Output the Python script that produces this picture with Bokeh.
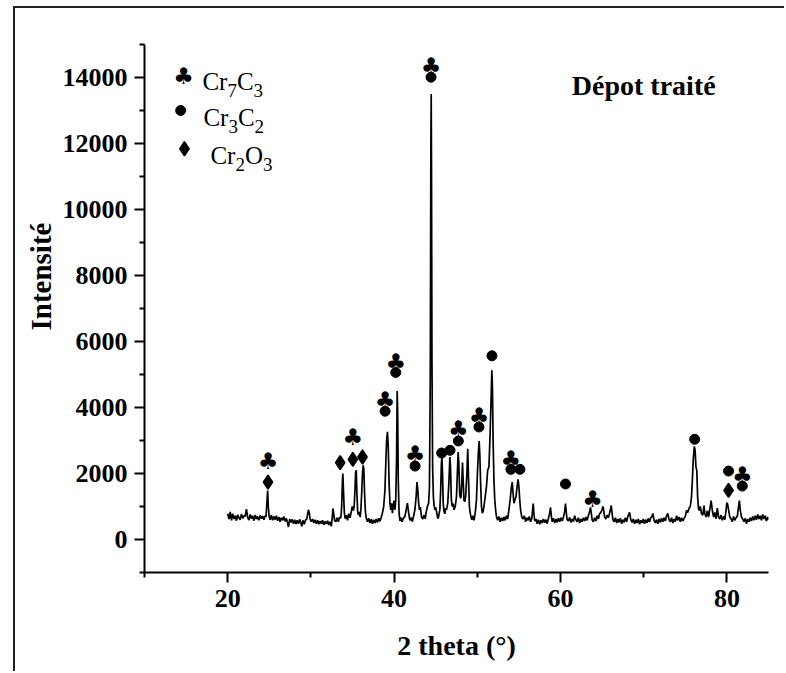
from bokeh.plotting import figure
from bokeh.models import Range1d, FixedTicker, Label, Title
from bokeh.core.properties import value
from bokeh.embed import file_html
from bokeh.resources import INLINE

# ---------------- data ----------------
two_theta = [
    20.0, 20.15, 20.3, 20.45, 20.6, 20.75, 20.9, 21.05, 21.2, 21.35, 21.5, 21.65, 21.8, 21.95, 22.1, 22.25,
    22.4, 22.55, 22.7, 22.85, 23.0, 23.15, 23.3, 23.45, 23.6, 23.75, 23.9, 24.05, 24.2, 24.35, 24.5,
    24.6, 24.7, 24.8, 24.88, 24.98,
    25.1, 25.25, 25.4, 25.55, 25.7, 25.85, 26.0, 26.15, 26.3, 26.45, 26.6, 26.75, 26.9, 27.05, 27.2, 27.3,
    27.45, 27.6, 27.75, 27.9, 28.05, 28.2, 28.35, 28.5, 28.65, 28.8, 28.9, 29.05, 29.2, 29.35, 29.5,
    29.6, 29.7, 29.8, 29.9,
    30.05, 30.2, 30.35, 30.5, 30.65, 30.8, 30.95, 31.1, 31.25, 31.4, 31.55, 31.7, 31.85, 32.0, 32.15, 32.3,
    32.45, 32.55, 32.65, 32.75, 32.85, 33.0, 33.15, 33.3, 33.45,
    33.6, 33.7, 33.78, 33.84, 33.92, 34.02, 34.12, 34.25, 34.4, 34.55, 34.7, 34.85, 34.97, 35.1, 35.2, 35.3,
    35.38, 35.45, 35.53, 35.62, 35.72, 35.82, 35.92, 36.02, 36.12, 36.2, 36.28, 36.36, 36.45, 36.55, 36.65,
    36.8, 36.95, 37.1, 37.25, 37.4, 37.55, 37.7, 37.85, 38.0, 38.15, 38.3, 38.45, 38.6,
    38.75, 38.9, 39.0, 39.1, 39.2, 39.3, 39.4, 39.5, 39.6, 39.7, 39.8, 39.9, 40.0, 40.1, 40.2, 40.3,
    40.37, 40.43, 40.5, 40.6, 40.7, 40.8, 40.95, 41.1,
    41.3, 41.45, 41.6, 41.75, 41.9, 42.05, 42.2, 42.35, 42.5, 42.65, 42.75, 42.85, 42.95, 43.05, 43.15, 43.3,
    43.45, 43.6, 43.75, 43.85, 44.0, 44.15, 44.25, 44.35, 44.42, 44.46, 44.5, 44.55, 44.63, 44.72, 44.8, 44.9,
    45.0, 45.1, 45.2, 45.3, 45.4,
    45.5, 45.6, 45.68, 45.75, 45.82, 45.9, 46.0, 46.1, 46.2, 46.3, 46.45, 46.6, 46.7, 46.78, 46.88, 47.0,
    47.1, 47.2, 47.35, 47.5, 47.6, 47.7, 47.78, 47.88, 47.98, 48.05, 48.15, 48.22, 48.3, 48.4, 48.5, 48.6,
    48.75, 48.85, 48.95, 49.05, 49.15, 49.25, 49.35, 49.5, 49.6, 49.75, 49.9, 50.0, 50.1, 50.22, 50.3, 50.4,
    50.5, 50.6, 50.7, 50.8, 50.95, 51.1, 51.25, 51.4, 51.55, 51.65, 51.75, 51.82, 51.9, 52.0, 52.1, 52.2, 52.3,
    52.45, 52.6, 52.75, 52.9, 53.05, 53.2, 53.35, 53.5, 53.65, 53.8, 53.95, 54.1, 54.2, 54.3, 54.4, 54.5,
    54.65, 54.8, 54.9, 55.0, 55.1, 55.2, 55.35, 55.5, 55.65, 55.8, 55.95, 56.1, 56.25, 56.4, 56.55, 56.65,
    56.72, 56.8, 56.9, 57.05, 57.2, 57.35, 57.5, 57.65, 57.8, 57.95, 58.1, 58.25, 58.4, 58.55, 58.7, 58.8,
    58.9, 59.0, 59.15, 59.3, 59.45, 59.6, 59.75, 59.9, 60.05, 60.2, 60.35, 60.5, 60.6, 60.7, 60.8, 60.95,
    61.1, 61.25, 61.4, 61.55, 61.7, 61.85, 62.0, 62.15, 62.3, 62.45, 62.6, 62.75, 62.9, 63.05, 63.2, 63.35,
    63.5, 63.6, 63.7, 63.8, 63.95, 64.1, 64.25, 64.4, 64.55, 64.7, 64.85, 65.0, 65.1, 65.2, 65.3, 65.45,
    65.6, 65.75, 65.9, 66.0, 66.1, 66.2, 66.3, 66.45, 66.6, 66.75, 66.9, 67.05, 67.2, 67.35, 67.5, 67.65,
    67.8, 67.95, 68.1, 68.3, 68.45, 68.6, 68.75, 68.9, 69.05, 69.2, 69.35, 69.5, 69.65, 69.8, 69.95, 70.1,
    70.25, 70.4, 70.55, 70.7, 70.85, 71.0, 71.1, 71.25, 71.4, 71.55, 71.7, 71.85, 72.0, 72.15, 72.3, 72.45,
    72.6, 72.75, 72.9, 73.05, 73.2, 73.35, 73.5, 73.65, 73.8, 73.95, 74.1, 74.25, 74.4, 74.55, 74.7, 74.85,
    75.0, 75.15, 75.3, 75.45, 75.6, 75.75, 75.85, 75.95, 76.08, 76.18, 76.28, 76.38, 76.48, 76.58, 76.68, 76.8,
    76.95, 77.1, 77.25, 77.35, 77.5, 77.65, 77.8, 77.95, 78.1, 78.25, 78.4, 78.55, 78.7, 78.85, 79.0, 79.15,
    79.3, 79.45, 79.6, 79.75, 79.9, 80.0, 80.1, 80.2, 80.35, 80.5, 80.65, 80.8, 80.95, 81.1, 81.25, 81.4,
    81.5, 81.6, 81.75, 81.9, 82.05, 82.2, 82.35, 82.5, 82.65, 82.8, 82.95, 83.1, 83.25, 83.4, 83.55, 83.7,
    83.85, 84.0, 84.15, 84.3, 84.45, 84.6, 84.75, 84.9, 85.0,
]
intensity = [
    780, 620, 840, 580, 780, 620, 720, 570, 750, 660, 600, 770, 640, 720, 700, 920,
    670, 590, 760, 630, 720, 570, 740, 620, 700, 580, 730, 630, 710, 600, 720,
    680, 1050, 1480, 1000, 700,
    600, 740, 580, 700, 600, 720, 570, 680, 540, 660, 580, 700, 550, 640, 500, 380,
    620, 520, 610, 480, 600, 470, 580, 480, 610, 500, 400, 580, 460, 590, 610,
    760, 900, 820, 620,
    540, 620, 500, 600, 480, 580, 460, 560, 480, 580, 450, 550, 470, 570, 440, 540,
    400, 620, 940, 760, 580, 540, 660, 540, 680,
    650, 1000, 1700, 2000, 1450, 800, 630, 740, 580, 780, 660, 840, 1000, 880, 1000, 1500,
    2050, 2100, 1400, 850, 740, 840, 680, 950, 1500, 2000, 2250, 2150, 1400, 850, 650,
    540, 640, 500, 620, 480, 600, 500, 620, 520, 640, 550, 670, 800,
    1000, 1500, 2300, 3000, 3260, 2800, 1700, 1100, 900, 1100, 800, 1050, 1180, 900, 1200, 2500,
    4500, 3800, 1800, 800, 560, 670, 540, 640,
    700, 900, 1100, 800, 580, 660, 540, 720, 900, 1300, 1740, 1500, 1100, 900, 980, 680,
    620, 740, 630, 820, 1000, 1100, 1600, 5000, 12000, 13500, 11000, 5500, 2200, 1300, 1050, 900,
    980, 850, 700, 630, 770,
    900, 1500, 2300, 2480, 2000, 1100, 850, 780, 950, 900, 1100, 1800, 2500, 2200, 1200, 1000,
    1090, 900, 1000, 1300, 2000, 2650, 2300, 1400, 1250, 1300, 1800, 2330, 1800, 1180, 1150, 1300,
    2000, 2750, 1800, 1000, 800, 680, 600, 720, 580, 800, 1200, 1900, 2500, 2980, 2600, 1700,
    1000, 800, 850, 1000, 1300, 1600, 2100, 2200, 3300, 4200, 5130, 4600, 3000, 1800, 1200, 900, 700,
    580, 700, 540, 660, 560, 680, 580, 720, 620, 900, 1200, 1600, 1740, 1400, 1100, 1180,
    1300, 1650, 1820, 1600, 1200, 900, 680, 620, 720, 540, 660, 580, 700, 540, 640, 900,
    1090, 800, 560, 620, 480, 600, 460, 580, 500, 620, 510, 600, 480, 640, 800, 970,
    700, 540, 640, 500, 620, 520, 640, 540, 660, 560, 670, 850, 1090, 800, 600, 560,
    670, 520, 620, 540, 720, 600, 540, 660, 500, 620, 540, 660, 560, 680, 580, 720,
    850, 970, 800, 600, 540, 660, 560, 720, 620, 780, 820, 900, 1000, 880, 680, 620,
    740, 660, 800, 900, 1030, 800, 600, 540, 660, 500, 620, 520, 640, 480, 600, 520,
    660, 540, 700, 820, 600, 520, 620, 480, 600, 500, 620, 460, 580, 500, 620, 480,
    600, 510, 640, 530, 660, 700, 790, 580, 500, 600, 480, 620, 520, 640, 540, 660,
    560, 720, 790, 600, 540, 660, 500, 620, 540, 720, 580, 680, 540, 660, 560, 640,
    700, 880, 820, 950, 1000, 1300, 1800, 2400, 2820, 2700, 2200, 2100, 1300, 950, 880, 1000,
    780, 740, 1030, 780, 680, 870, 680, 920, 1180, 880, 680, 820, 630, 950, 680, 620,
    740, 580, 700, 600, 900, 1120, 1050, 900, 680, 620, 540, 700, 580, 660, 700, 1000,
    1180, 900, 680, 620, 540, 640, 480, 620, 540, 660, 560, 700, 580, 720, 600, 760,
    620, 720, 580, 760, 620, 720, 560, 680, 600,
]

# phase markers above the peaks
club_x = [24.84, 35.04, 38.92, 40.2, 42.52, 44.44, 47.72, 50.2, 54.04, 63.84, 81.85]
club_y = [2370, 3107, 4242, 5384, 2581, 14343, 3362, 3744, 2451, 1230, 1965]
circle_x = [38.92, 40.2, 42.52, 44.44, 45.72, 46.72, 47.72, 50.2, 51.76, 54.04, 55.12, 60.6, 76.12, 80.2, 81.85]
circle_y = [3887, 5062, 2226, 14009, 2621, 2703, 2985, 3410, 5566, 2126, 2126, 1682, 3037, 2074, 1619]
diamond_x = [24.84, 33.52, 35.04, 36.2, 80.2]
diamond_y = [1740, 2329, 2429, 2499, 1488]

x_ticks = [20, 40, 60, 80]
x_minor_ticks = [10, 30, 50, 70]
y_ticks = [0, 2000, 4000, 6000, 8000, 10000, 12000, 14000]
y_minor_ticks = [-1000, 1000, 3000, 5000, 7000, 9000, 11000, 13000, 15000]

legend_phases = [("Cr", "7", "C", "3"), ("Cr", "3", "C", "2"), ("Cr", "2", "O", "3")]

SERIF = "Liberation Serif"
CLUB = "\u2663\ufe0e"

p = figure(width=771, height=665, x_range=Range1d(10, 85), y_range=Range1d(-1000, 15000),
           output_backend="svg", toolbar_location=None,
           min_border_left=129, min_border_right=18, min_border_top=36, min_border_bottom=101)
p.styles = {"margin-left": "13px", "margin-top": "6px",
            "border-top": "2px solid #222", "border-left": "2px solid #222"}
p.outline_line_color = None
p.xgrid.visible = False
p.ygrid.visible = False
p.background_fill_color = "white"
p.border_fill_color = "white"

for ax, ticks, minor in ((p.xaxis[0], x_ticks, x_minor_ticks), (p.yaxis[0], y_ticks, y_minor_ticks)):
    ax.ticker = FixedTicker(ticks=ticks, minor_ticks=minor)
    ax.axis_line_width = 2
    ax.axis_line_color = "black"
    ax.major_tick_line_width = 2
    ax.minor_tick_line_width = 2
    ax.major_tick_line_color = "black"
    ax.minor_tick_line_color = "black"
    ax.major_tick_in = 0
    ax.minor_tick_in = 0
    ax.major_tick_out = 10
    ax.minor_tick_out = 5
    ax.major_label_text_font = SERIF
    ax.major_label_text_font_style = "bold"
    ax.major_label_text_font_size = "26px"
    ax.major_label_text_color = "black"

p.yaxis.major_label_standoff = 7
p.xaxis.major_label_standoff = 7
p.xaxis.axis_label = "2 theta (°)"
p.xaxis.axis_label_text_font = SERIF
p.xaxis.axis_label_text_font_style = "bold"
p.xaxis.axis_label_text_font_size = "28px"
p.xaxis.axis_label_text_color = "black"
p.xaxis.axis_label_standoff = 20

# y axis title, placed like the reference (off-centre)
p.add_layout(Title(text="Intensité", align="left", offset=242, text_font=SERIF, text_font_style="bold",
                   text_font_size="29px", text_color="black", standoff=6), "left")

# the XRD pattern
p.line(two_theta, intensity, line_color="black", line_width=1.7)

# phase markers
p.text(club_x, club_y, text=[CLUB] * len(club_x), text_font=value("DejaVu Sans"),
       text_font_size="23px", text_align="center", text_baseline="middle", text_color="black")
p.scatter(circle_x, circle_y, marker="circle", size=10, fill_color="black", line_color="black")
p.scatter(diamond_x, diamond_y, marker="diamond", size=14, fill_color="black", line_color="black", line_width=1.5)

# legend
p.text([14.7], [14060], text=[CLUB], text_font=value("DejaVu Sans"), text_font_size="23px",
       text_align="center", text_baseline="middle", text_color="black")
p.scatter([14.35], [13000], marker="circle", size=10, fill_color="black", line_color="black")
p.scatter([14.8], [11840], marker="diamond", size=14, fill_color="black", line_color="black", line_width=1.5)

legend_x = [16.96, 17.08, 17.92]
legend_base = [13878, 12776, 11631]
for (a, s1, b, s2), lx, ly in zip(legend_phases, legend_x, legend_base):
    w_b = 16.7 if b == "C" else 18.05
    p.text([lx], [ly], text=[a], text_font=value(SERIF), text_font_size="25px",
           text_baseline="alphabetic", text_color="black")
    p.text([lx], [ly], text=[b], x_offset=34.5, text_font=value(SERIF), text_font_size="25px",
           text_baseline="alphabetic", text_color="black")
    p.text([lx], [ly], text=[s1], x_offset=25, y_offset=9, text_font=value(SERIF), text_font_size="19px",
           text_baseline="alphabetic", text_color="black")
    p.text([lx], [ly], text=[s2], x_offset=34.5 + w_b, y_offset=9, text_font=value(SERIF), text_font_size="19px",
           text_baseline="alphabetic", text_color="black")

p.add_layout(Label(x=61.36, y=13756, text="Dépot traité", text_font=SERIF, text_font_style="bold",
                   text_font_size="28px", text_baseline="alphabetic", text_color="black"))

open("out.html", "w").write(file_html(p, INLINE))
